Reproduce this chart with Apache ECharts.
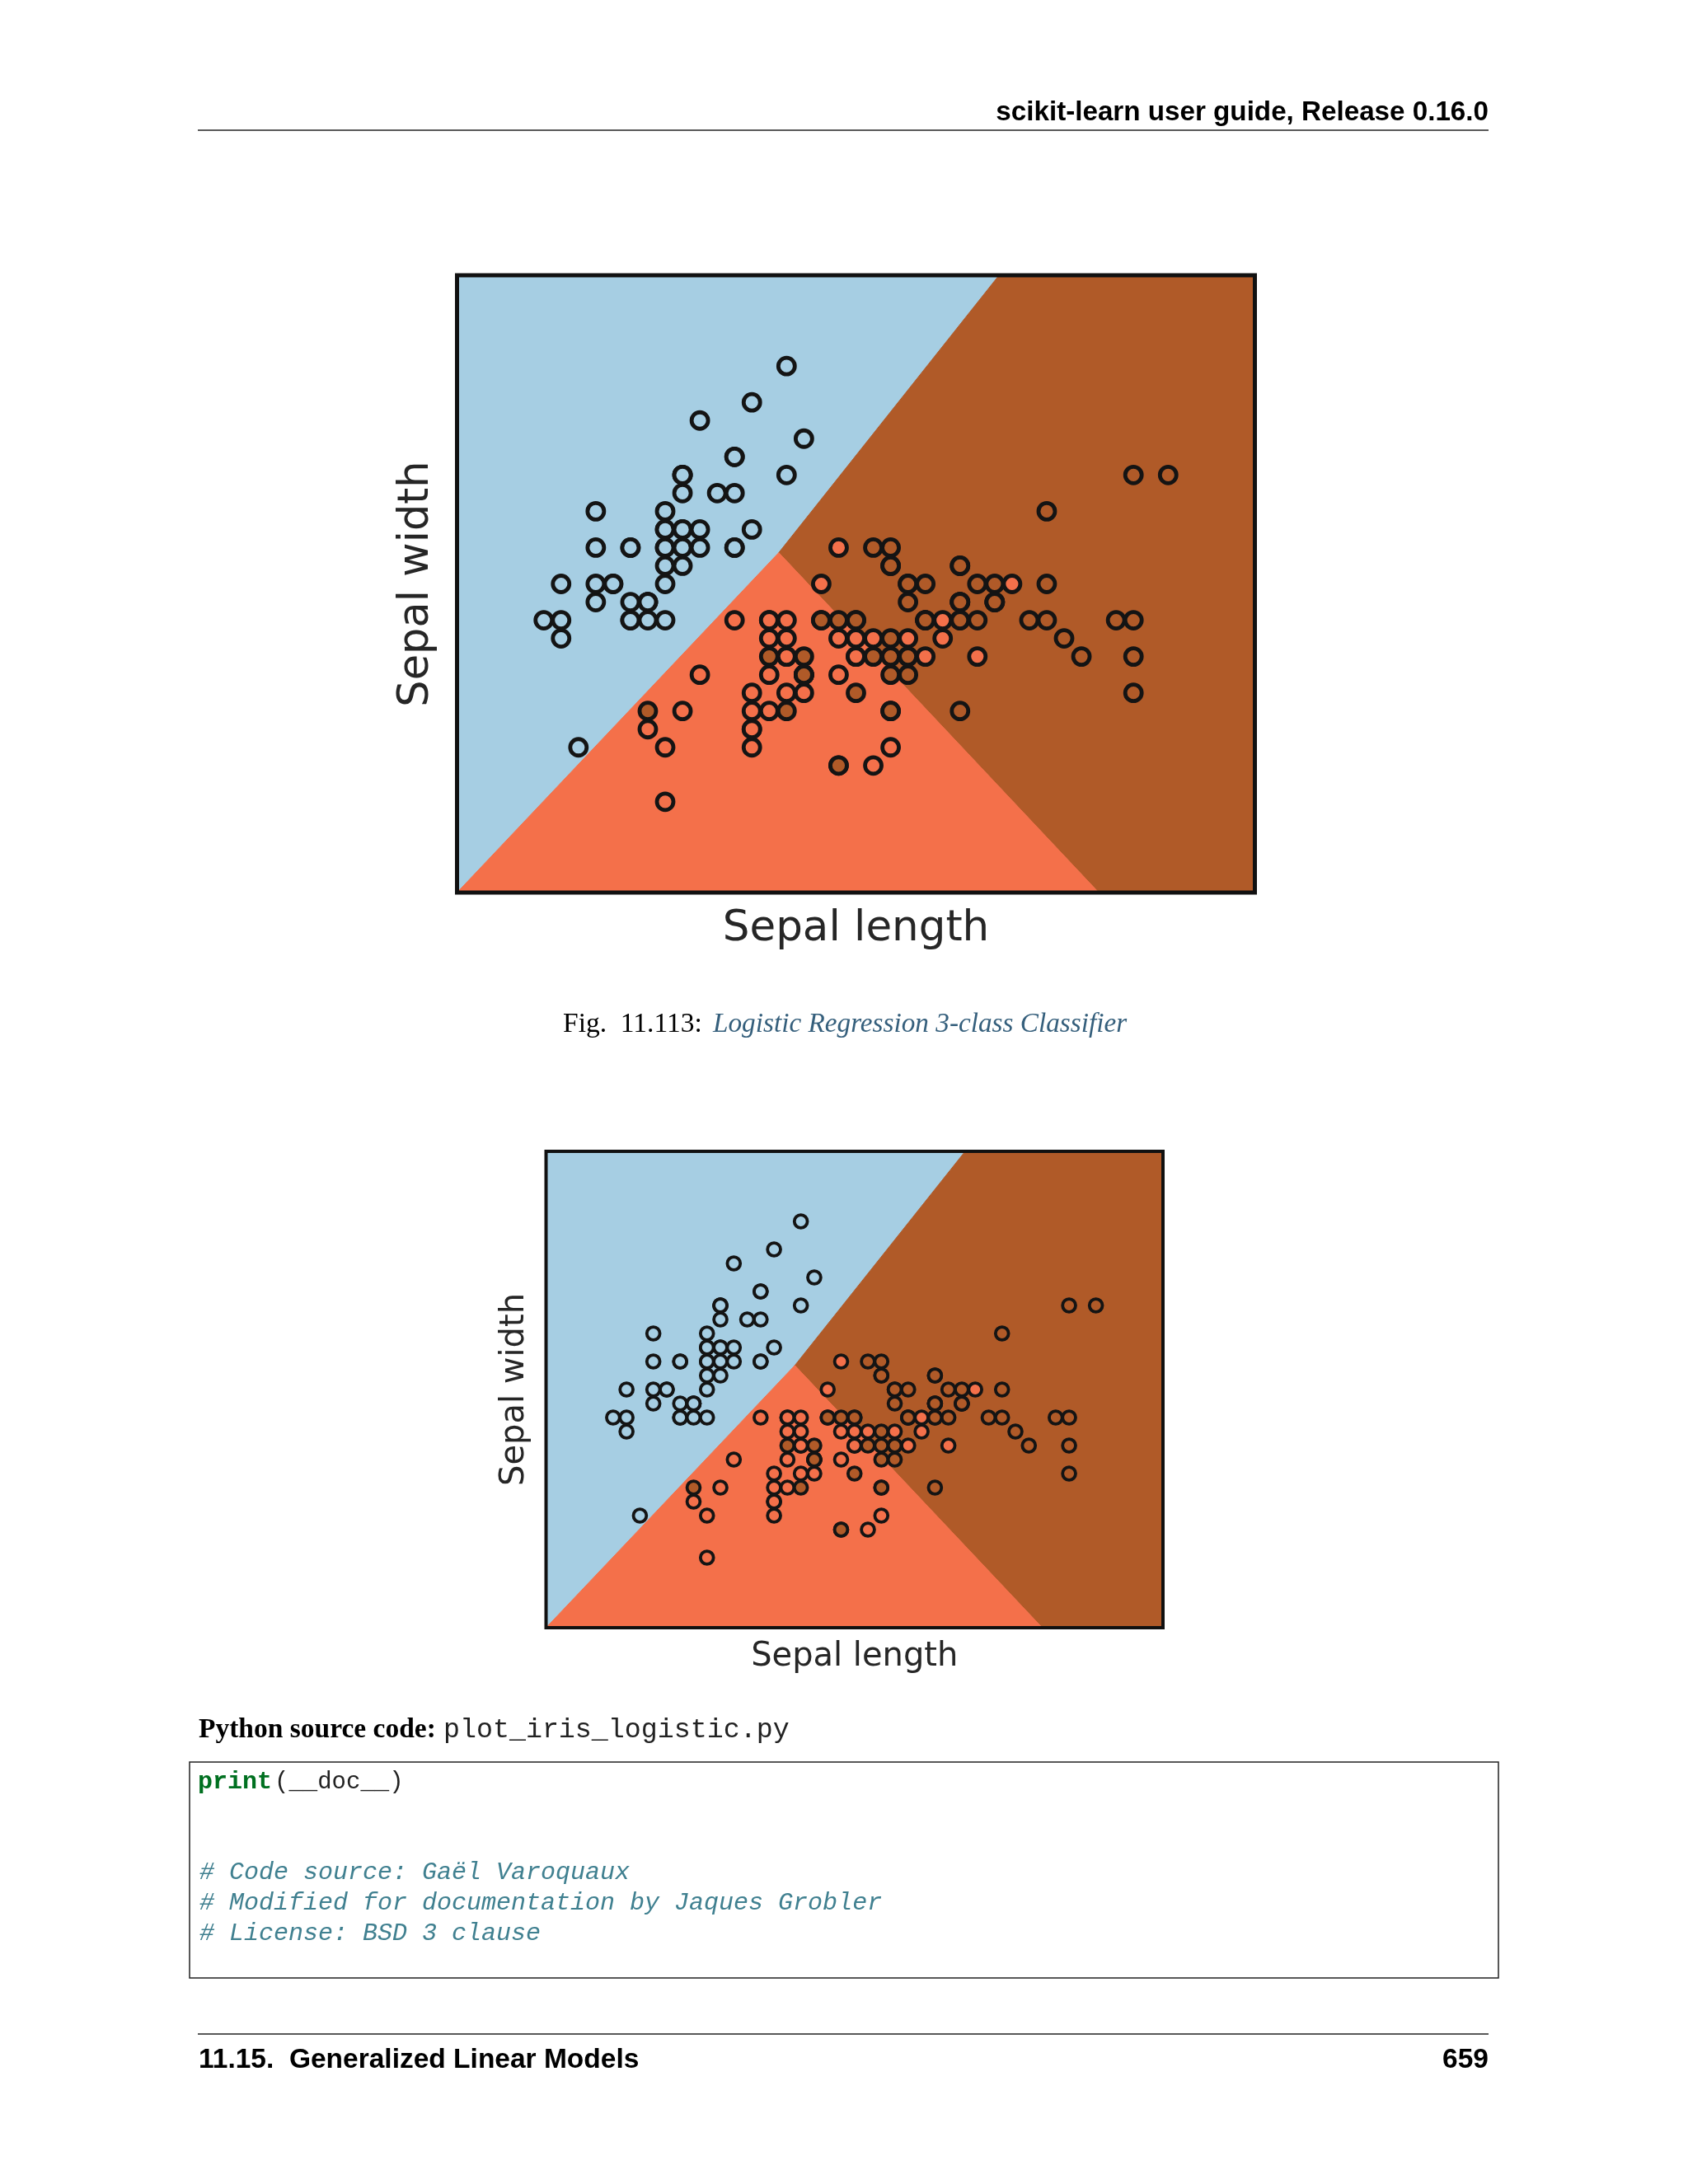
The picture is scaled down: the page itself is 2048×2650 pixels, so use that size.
<!DOCTYPE html>
<html>
<head>
<meta charset="utf-8">
<title>Logistic Regression 3-class Classifier</title>
<script src="https://cdn.jsdelivr.net/npm/echarts@6/dist/echarts.min.js"></script>
<style>
  html, body { margin: 0; padding: 0; background: #fff; }
  #main { width: 2048px; height: 2650px; }
</style>
</head>
<body>
<div id="main"></div>
<script>
// [sepal length, sepal width]
const class0 = [
  [5.1,3.5],[4.9,3.0],[4.7,3.2],[4.6,3.1],[5.0,3.6],[5.4,3.9],[4.6,3.4],[5.0,3.4],[4.4,2.9],[4.9,3.1],
  [5.4,3.7],[4.8,3.4],[4.8,3.0],[4.3,3.0],[5.8,4.0],[5.7,4.4],[5.4,3.9],[5.1,3.5],[5.7,3.8],[5.1,3.8],
  [5.4,3.4],[5.1,3.7],[4.6,3.6],[5.1,3.3],[4.8,3.4],[5.0,3.0],[5.0,3.4],[5.2,3.5],[5.2,3.4],[4.7,3.2],
  [4.8,3.1],[5.4,3.4],[5.2,4.1],[5.5,4.2],[4.9,3.1],[5.0,3.2],[5.5,3.5],[4.9,3.1],[4.4,3.0],[5.1,3.4],
  [5.0,3.5],[4.5,2.3],[4.4,3.2],[5.0,3.5],[5.1,3.8],[4.8,3.0],[5.1,3.8],[4.6,3.2],[5.3,3.7],[5.0,3.3]
];
const class1 = [
  [7.0,3.2],[6.4,3.2],[6.9,3.1],[5.5,2.3],[6.5,2.8],[5.7,2.8],[6.3,3.3],[4.9,2.4],[6.6,2.9],[5.2,2.7],
  [5.0,2.0],[5.9,3.0],[6.0,2.2],[6.1,2.9],[5.6,2.9],[6.7,3.1],[5.6,3.0],[5.8,2.7],[6.2,2.2],[5.6,2.5],
  [5.9,3.2],[6.1,2.8],[6.3,2.5],[6.1,2.8],[6.4,2.9],[6.6,3.0],[6.8,2.8],[6.7,3.0],[6.0,2.9],[5.7,2.6],
  [5.5,2.4],[5.5,2.4],[5.8,2.7],[6.0,2.7],[5.4,3.0],[6.0,3.4],[6.7,3.1],[6.3,2.3],[5.6,3.0],[5.5,2.5],
  [5.5,2.6],[6.1,3.0],[5.8,2.6],[5.0,2.3],[5.6,2.7],[5.7,3.0],[5.7,2.9],[6.2,2.9],[5.1,2.5],[5.7,2.8]
];
const class2 = [
  [6.3,3.3],[5.8,2.7],[7.1,3.0],[6.3,2.9],[6.5,3.0],[7.6,3.0],[4.9,2.5],[7.3,2.9],[6.7,2.5],[7.2,3.6],
  [6.5,3.2],[6.4,2.7],[6.8,3.0],[5.7,2.5],[5.8,2.8],[6.4,3.2],[6.5,3.0],[7.7,3.8],[7.7,2.6],[6.0,2.2],
  [6.9,3.2],[5.6,2.8],[7.7,2.8],[6.3,2.7],[6.7,3.3],[7.2,3.2],[6.2,2.8],[6.1,3.0],[6.4,2.8],[7.2,3.0],
  [7.4,2.8],[7.9,3.8],[6.4,2.8],[6.3,2.8],[6.1,2.6],[7.7,3.0],[6.3,3.4],[6.4,3.1],[6.0,3.0],[6.9,3.1],
  [6.7,3.1],[6.9,3.1],[5.8,2.7],[6.8,3.2],[6.7,3.3],[6.7,3.0],[6.3,2.5],[6.5,3.0],[6.2,3.4],[5.9,3.0]
];

// decision regions, in data units
const regionBlue = [[3.8,1.5],[3.8,4.9],[6.925,4.9],[5.655,3.372]];
const regionOrange = [[3.8,1.5],[5.655,3.372],[7.5,1.5]];
const regionBrown = [[6.925,4.9],[8.4,4.9],[8.4,1.5],[7.5,1.5],[5.655,3.372]];

const xRange = [3.8, 8.4];
const yRange = [1.5, 4.9];
const xName = 'Sepal length';
const yName = 'Sepal width';

const headerText = 'scikit-learn user guide, Release 0.16.0';
const captionLabel = 'Fig.  11.113:';
const captionLink = 'Logistic Regression 3-class Classifier';
const sourceLabel = 'Python source code:';
const sourceFile = 'plot_iris_logistic.py';
const codeKeyword = 'print';
const codeCall = '(__doc__)';
const codeComments = [
  '# Code source: Gaël Varoquaux',
  '# Modified for documentation by Jaques Grobler',
  '# License: BSD 3 clause'
];
const footerText = '11.15.  Generalized Linear Models';
const footerPage = '659';

const BLUE = '#a6cee3';
const ORANGE = '#f4704a';
const BROWN = '#b05a28';

var chartDom = document.getElementById('main');
var myChart = echarts.init(chartDom);

function regionSeries(points, color, idx) {
  return {
    type: 'custom',
    xAxisIndex: idx,
    yAxisIndex: idx,
    silent: true,
    z: 1,
    data: [0],
    renderItem: function (params, api) {
      return {
        type: 'polygon',
        shape: { points: points.map(function (p) { return api.coord(p); }) },
        style: { fill: color, stroke: color, lineWidth: 1 }
      };
    }
  };
}

function scatterSeries(data, color, idx, size, border) {
  return {
    type: 'scatter',
    xAxisIndex: idx,
    yAxisIndex: idx,
    silent: true,
    z: 3,
    symbolSize: size,
    itemStyle: { color: color, borderColor: '#141414', borderWidth: border, opacity: 1 },
    data: data
  };
}

function figureSeries(idx, size, border) {
  return [
    regionSeries(regionBlue, BLUE, idx),
    regionSeries(regionBrown, BROWN, idx),
    regionSeries(regionOrange, ORANGE, idx),
    scatterSeries(class0, BLUE, idx, size, border),
    scatterSeries(class1, ORANGE, idx, size, border),
    scatterSeries(class2, BROWN, idx, size, border)
  ];
}

function plainAxis(range, name, idx, fontSize, gap) {
  return {
    type: 'value',
    gridIndex: idx,
    min: range[0],
    max: range[1],
    name: name,
    nameLocation: 'middle',
    nameGap: gap,
    nameTextStyle: { fontFamily: 'DejaVu Sans', fontSize: fontSize, color: '#262626' },
    axisLine: { show: false },
    axisTick: { show: false },
    axisLabel: { show: false },
    splitLine: { show: false }
  };
}

function pageText(text, x, y, font, color, extra) {
  return {
    type: 'text',
    x: x,
    y: y,
    silent: true,
    style: Object.assign({
      text: text,
      font: font,
      fill: color,
      verticalAlign: 'middle'
    }, extra)
  };
}

function pageLine(x1, y1, x2, y2, width) {
  return {
    type: 'line',
    silent: true,
    shape: { x1: x1, y1: y1, x2: x2, y2: y2 },
    style: { stroke: '#222', lineWidth: width }
  };
}

var sansBold = 'bold 33.5px "Liberation Sans"';
var serif = '33.5px "Liberation Serif"';
var serifBold = 'bold 33.5px "Liberation Serif"';
var serifItalic = 'italic 33.25px "Liberation Serif"';
var mono = '30px "Liberation Mono"';
var monoBold = 'bold 30px "Liberation Mono"';
var monoItalic = 'italic 30px "Liberation Mono"';

var option = {
  animation: false,
  backgroundColor: '#fff',
  grid: [
    { left: 554.5, top: 334, width: 968, height: 749, show: true, z: 10, backgroundColor: 'transparent', borderColor: '#111', borderWidth: 5 },
    { left: 662.5, top: 1397, width: 748.5, height: 578, show: true, z: 10, backgroundColor: 'transparent', borderColor: '#111', borderWidth: 4 }
  ],
  xAxis: [
    plainAxis(xRange, xName, 0, 51.5, 19),
    plainAxis(xRange, xName, 1, 40, 16)
  ],
  yAxis: [
    plainAxis(yRange, yName, 0, 51, 23),
    plainAxis(yRange, yName, 1, 40, 18)
  ],
  series: figureSeries(0, 20, 4.8).concat(figureSeries(1, 15.8, 3.8)),
  graphic: [
    pageText(headerText, 1806, 137, 'bold 33.2px "Liberation Sans"', '#000', { align: 'right' }),
    pageLine(240, 158, 1806, 158, 1.5),
    pageText(captionLabel, 683, 1243, serif, '#000'),
    pageText(captionLink, 865, 1243, serifItalic, '#355f7c'),
    pageText(sourceLabel, 241, 2099, serifBold, '#000'),
    pageText(sourceFile, 538, 2099, '33.3px "Liberation Mono"', '#222'),
    { type: 'rect', silent: true, shape: { x: 230, y: 2138, width: 1588, height: 262 }, style: { fill: 'transparent', stroke: '#222', lineWidth: 1.5 } },
    pageText(codeKeyword, 240, 2162, monoBold, '#007020'),
    pageText(codeCall, 333, 2162, '29px "Liberation Mono"', '#222'),
    pageText(codeComments[0], 242, 2272, monoItalic, '#408090'),
    pageText(codeComments[1], 242, 2309, monoItalic, '#408090'),
    pageText(codeComments[2], 242, 2346, monoItalic, '#408090'),
    pageLine(240, 2468, 1806, 2468, 1.5),
    pageText(footerText, 241, 2500, sansBold, '#000'),
    pageText(footerPage, 1806, 2500, sansBold, '#000', { align: 'right' })
  ]
};

option && myChart.setOption(option);
</script>
</body>
</html>
